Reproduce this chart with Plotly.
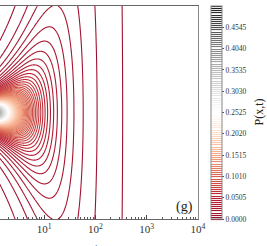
import numpy as np
import plotly.graph_objects as go
from math import gamma as G

# ---- data ranges / grid -------------------------------------------------
t_log_range = [0.0, 4.0]      # log10(t) span of the computed field
x_half = 9.0                  # x runs from -x_half to x_half
n_t, n_x = 700, 301

# ---- model parameters ---------------------------------------------------
nu = 1.6          # tail index of the spreading profile
a_scale = 0.716   # short-time spreading speed
t_cross = 20.0    # crossover time between regimes
beta = 0.56       # long-time spreading exponent

# ---- contour levels / ticks ---------------------------------------------
level_start, level_end, level_step = 0.0, 0.505, 0.00505
cbar_ticks = [0.0000, 0.0505, 0.1010, 0.1515, 0.2020, 0.2525, 0.3030, 0.3535, 0.4040, 0.4545]
cbar_text = ["%.4f" % v for v in cbar_ticks]
x_tick_vals = [10, 100, 1000, 10000]
x_tick_text = ["10<sup>1</sup>", "10<sup>2</sup>", "10<sup>3</sup>", "10<sup>4</sup>"]
x_minor_vals = [m * 10 ** k for k in range(0, 4) for m in range(2, 10)]
panel_label = "(g)"
x_title = "t"
cbar_title = "P(x,t)"

# ---- field ----------------------------------------------------------------
t = np.logspace(t_log_range[0], t_log_range[1], n_t)
x = np.linspace(-x_half, x_half, n_x)
width_t = a_scale * t / (1.0 + t / t_cross) ** (1.0 - beta)
c_nu = G((nu + 1) / 2) / (np.sqrt(nu * np.pi) * G(nu / 2))
P = (c_nu / width_t[None, :]) * (1.0 + (x[:, None] / width_t[None, :]) ** 2 / nu) ** (-(nu + 1) / 2)

rdgy_r = [[0.0, "#981030"], [0.1, "#b71c30"], [0.2, "#d6604d"], [0.3, "#f4a582"],
          [0.4, "#fddbc7"], [0.5, "#ffffff"], [0.6, "#e0e0e0"], [0.7, "#bababa"],
          [0.8, "#878787"], [0.9, "#4d4d4d"], [1.0, "#1a1a1a"]]

W, H = 267, 246
ml, mr, mt, mb = 0, 69, 6, 27
pw, ph = W - ml - mr, H - mt - mb
decade_px = 51.25
serif = "Liberation Serif"

fig = go.Figure(go.Contour(
    x=t, y=x, z=P,
    zmin=0, zmax=level_end, zauto=False,
    colorscale=rdgy_r,
    contours=dict(coloring="lines", start=level_start, end=level_end, size=level_step),
    line=dict(width=1.1),
    hoverinfo="skip",
    colorbar=dict(
        thickness=11, len=1, lenmode="fraction",
        x=(211 - ml) / pw, xanchor="left", y=0.5, yanchor="middle",
        xpad=0, ypad=0, outlinewidth=1, outlinecolor="#888",
        tickvals=cbar_ticks, ticktext=cbar_text,
        ticks="outside", ticklen=2, tickcolor="#555",
        tickfont=dict(family=serif, size=7.5, color="#333"),
    ),
))

fig.update_layout(
    width=W, height=H, margin=dict(l=ml, r=mr, t=mt, b=mb),
    paper_bgcolor="white", plot_bgcolor="white", showlegend=False,
    xaxis=dict(type="log", range=[4 - pw / decade_px, 4], showgrid=False, zeroline=False,
               showline=True, linecolor="#666", linewidth=1, mirror=True,
               ticks="inside", ticklen=4, tickcolor="#444",
               tickvals=x_tick_vals, ticktext=x_tick_text,
               tickfont=dict(family=serif, size=11, color="#333"),
               minor=dict(ticks="inside", ticklen=2, tickcolor="#555", tickvals=x_minor_vals)),
    yaxis=dict(range=[-x_half, x_half], showgrid=False, zeroline=False, showticklabels=False,
               ticks="", showline=True, side="right", linecolor="#888", linewidth=1),
    annotations=[
        dict(text=panel_label, xref="paper", yref="paper", x=1, y=0, xanchor="right", yanchor="bottom",
             xshift=-3, yshift=2, showarrow=False, font=dict(family=serif, size=14, color="#222")),
        dict(text=x_title, xref="paper", yref="paper", x=96 / pw, y=-(240 - (H - mb)) / ph,
             xanchor="center", yanchor="top", showarrow=False,
             font=dict(family=serif, size=10, color="#222")),
        dict(text=cbar_title, xref="paper", yref="paper", x=(258 - ml) / pw, y=0.5,
             xanchor="center", yanchor="middle", textangle=-90, showarrow=False,
             font=dict(family=serif, size=12, color="#222")),
    ],
)

fig.write_html("out.html", config={"displayModeBar": False},
               post_script="document.body.style.margin='0';document.body.style.overflow='hidden';")
